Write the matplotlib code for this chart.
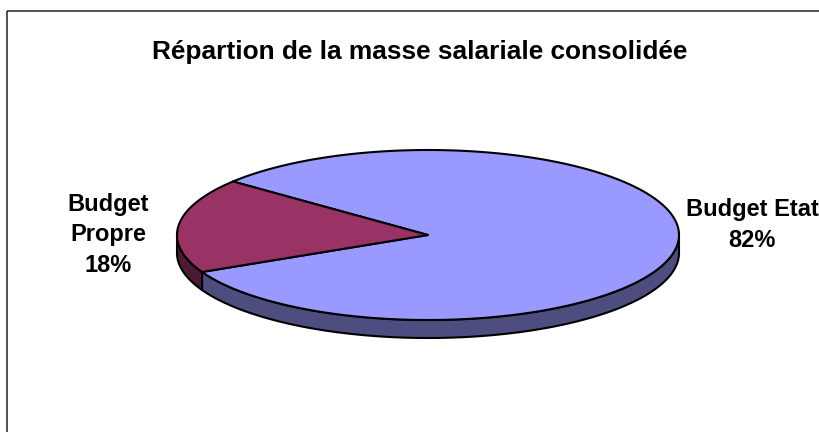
import matplotlib
matplotlib.use("Agg")
import matplotlib.pyplot as plt
from matplotlib.patches import Polygon, Rectangle
import numpy as np

plt.rcParams['font.family'] = ['Liberation Sans', 'DejaVu Sans']

title = "Répartion de la masse salariale consolidée"
categories = ["Budget Etat", "Budget Propre"]
values = [82, 18]
label_texts = ["Budget Etat", "Budget\nPropre"]

top_colors = ["#9999FF", "#993366"]
side_colors = ["#4D4D80", "#4D1A33"]

# ellipse geometry (pixels, y grows downwards)
cx, cy = 428, 235
rx, ry = 251, 85
depth = 18
start = 205.8


def arc(a0, a1, dy=0.0, n=120):
    t = np.radians(np.linspace(a0, a1, n))
    return np.column_stack([cx + rx * np.cos(t), cy - ry * np.sin(t) + dy])


fig = plt.figure(figsize=(8.19, 4.32), dpi=100)
ax = fig.add_axes([0, 0, 1, 1])
ax.set_xlim(0, 819)
ax.set_ylim(432, 0)
ax.axis('off')

# chart frame
ax.add_patch(Rectangle((7, 11), 900, 500, facecolor='none', edgecolor='#222222', lw=1.1))

total = float(sum(values))
bounds = []
a = start
for v in values:
    b = a + 360.0 * v / total
    bounds.append((a, b))
    a = b

# side wall, only the front half (180..360 deg, shifted by whole turns)
for (a0, a1), col in zip(bounds, side_colors):
    for k in (0, 360):
        lo = max(a0, 180 + k)
        hi = min(a1, 360 + k)
        if hi > lo:
            top = arc(lo, hi)
            bot = arc(hi, lo, dy=depth)
            ax.add_patch(Polygon(np.vstack([top, bot]), closed=True,
                                 facecolor=col, edgecolor='black', lw=1.5, joinstyle='round'))

# top faces
for (a0, a1), col in zip(bounds, top_colors):
    pts = np.vstack([[cx, cy], arc(a0, a1, n=300)])
    ax.add_patch(Polygon(pts, closed=True, facecolor=col, edgecolor='black',
                         lw=1.5, joinstyle='round'))

ax.text(420, 52, title, ha='center', va='center', fontsize=18.9, fontweight='bold')

pcts = [f"{v / total * 100:.0f}%" for v in values]
ax.text(752, 225, f"{label_texts[0]}\n{pcts[0]}", ha='center', va='center',
        fontsize=17, fontweight='bold', linespacing=1.42)
ax.text(108, 235, f"{label_texts[1]}\n{pcts[1]}", ha='center', va='center',
        fontsize=17, fontweight='bold', linespacing=1.42)

fig.savefig("out.png", dpi=100)
